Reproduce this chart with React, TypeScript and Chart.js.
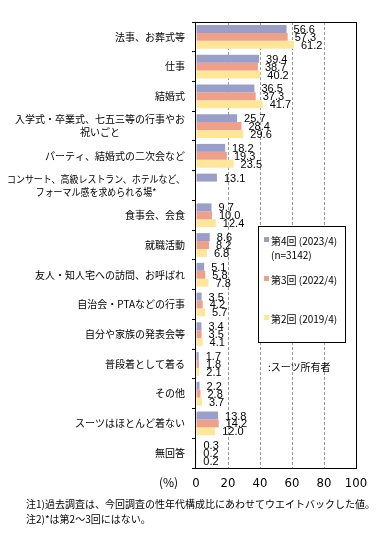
import React, { useEffect, useRef } from "react";
import { Chart, registerables } from "chart.js";

Chart.register(...registerables);

const categories: string[][] = [
  ["法事、お葬式等"],
  ["仕事"],
  ["結婚式"],
  ["入学式・卒業式、七五三等の行事やお", "祝いごと"],
  ["パーティ、結婚式の二次会など"],
  ["コンサート、高級レストラン、ホテルなど、", "フォーマル感を求められる場*"],
  ["食事会、会食"],
  ["就職活動"],
  ["友人・知人宅への訪問、お呼ばれ"],
  ["自治会・PTAなどの行事"],
  ["自分や家族の発表会等"],
  ["普段着として着る"],
  ["その他"],
  ["スーツはほとんど着ない"],
  ["無回答"],
];

const series4: (number | null)[] = [56.6, 39.4, 36.5, 25.7, 18.2, 13.1, 9.7, 8.6, 5.1, 3.5, 3.4, 1.7, 2.2, 13.8, 0.3];
const series3: (number | null)[] = [57.3, 38.7, 37.3, 28.4, 19.3, null, 10.0, 8.2, 5.8, 4.2, 3.5, 1.8, 2.8, 14.2, 0.2];
const series2: (number | null)[] = [61.2, 40.2, 41.7, 29.6, 23.5, null, 12.4, 6.8, 7.8, 5.7, 4.1, 2.1, 3.7, 12.0, 0.2];

const seriesNames = ["第4回 (2023/4)", "第3回 (2022/4)", "第2回 (2019/4)"];
const xTicks = [0, 20, 40, 60, 80, 100];

const COLORS = ["#9A9FC9", "#EFA08B", "#FFE699"];
const JP = '"Noto Sans CJK JP", "Noto Sans", sans-serif';

const labelPlugin = {
  id: "customLabels",
  afterDatasetsDraw(chart: any) {
    const ctx = chart.ctx;
    ctx.save();
    ctx.font = '11px "Liberation Sans", Arial, sans-serif';
    ctx.fillStyle = "#000";
    ctx.textAlign = "left";
    ctx.textBaseline = "middle";
    chart.data.datasets.forEach((ds: any, i: number) => {
      const meta = chart.getDatasetMeta(i);
      meta.data.forEach((el: any, j: number) => {
        const v = ds.data[j];
        if (v === null || v === undefined) return;
        ctx.fillText(Number(v).toFixed(1), el.x + 7, el.y + 1);
      });
    });
    ctx.restore();
  },
  afterDraw(chart: any) {
    const ctx = chart.ctx;
    const { left, right, top, bottom } = chart.chartArea;
    ctx.save();
    ctx.strokeStyle = "#000";
    ctx.lineWidth = 1;
    ctx.strokeRect(Math.round(left) - 0.5, Math.round(top) + 0.5, Math.round(right - left) + 1, Math.round(bottom - top));
    // category labels
    const yScale = chart.scales.y;
    ctx.font = "10px " + JP;
    ctx.fillStyle = "#000";
    ctx.textBaseline = "middle";
    ctx.textAlign = "center";
    const xRight = left - 11;
    const maxAllowed = 178;
    categories.forEach((lines, i) => {
      const yc = yScale.getPixelForValue(i);
      const widths = lines.map((l) => ctx.measureText(l).width);
      const rawMax = Math.max(...widths);
      const scale = rawMax > maxAllowed ? maxAllowed / rawMax : 1;
      const maxW = rawMax * scale;
      const lh = 13;
      const y0 = yc - ((lines.length - 1) * lh) / 2;
      lines.forEach((l, k) => {
        ctx.fillText(l, xRight - maxW / 2, y0 + k * lh, widths[k] * scale);
      });
    });
    ctx.restore();
  },
};

export default function App() {
  const ref = useRef<HTMLCanvasElement | null>(null);
  useEffect(() => {
    if (!ref.current) return;
    const chart = new Chart(ref.current, {
      type: "bar",
      data: {
        labels: categories.map((c) => c.join("")),
        datasets: [series4, series3, series2].map((d, i) => ({
          label: seriesNames[i],
          data: d,
          backgroundColor: COLORS[i],
          borderWidth: 0,
          categoryPercentage: 0.8,
          barPercentage: 1.0,
        })),
      },
      options: {
        indexAxis: "y",
        responsive: false,
        animation: false,
        devicePixelRatio: 1,
        layout: { padding: { top: 22, right: 35, left: 0, bottom: 0 } },
        plugins: { legend: { display: false }, tooltip: { enabled: false } },
        scales: {
          y: {
            type: "category",
            ticks: { display: false },
            grid: {
              offset: true,
              drawOnChartArea: false,
              drawTicks: true,
              tickLength: 4,
              tickColor: "#000",
            },
            border: { display: false },
            afterFit: (s: any) => {
              s.width = 196;
            },
          },
          x: {
            min: 0,
            max: 100,
            afterBuildTicks: (s: any) => {
              s.ticks = xTicks.map((v) => ({ value: v }));
            },
            ticks: {
              color: "#000",
              padding: 8,
              font: { family: '"Liberation Sans Narrow", "DejaVu Sans Condensed", sans-serif', size: 13 },
            },
            grid: {
              drawTicks: false,
              color: (c: any) => (c.tick && (c.tick.value === 0 || c.tick.value === 100) ? "rgba(0,0,0,0)" : "#999"),
            },
            border: { display: false, dash: [3, 2] },
            afterFit: (s: any) => {
              s.height = 72;
            },
          },
        },
      },
      plugins: [labelPlugin],
    } as any);
    return () => chart.destroy();
  }, []);

  const txt = (left: number, cy: number, s: string, size = 10): React.ReactNode => (
    <div
      style={{
        position: "absolute",
        left,
        top: cy - 7,
        height: 14,
        lineHeight: "14px",
        fontSize: size,
        fontFamily: JP,
        whiteSpace: "nowrap",
        color: "#000",
      }}
    >
      {s}
    </div>
  );
  const marker = (left: number, cy: number, color: string) => (
    <div style={{ position: "absolute", left, top: cy - 3, width: 5, height: 5, background: color }} />
  );

  return (
    <div style={{ position: "absolute", left: 0, top: 0, width: 391, height: 540, background: "#fff" }}>
      <canvas ref={ref} width={391} height={540} style={{ position: "absolute", left: 0, top: 0 }} />
      <div
        style={{
          position: "absolute",
          left: 258,
          top: 226,
          width: 88,
          height: 117,
          border: "1px solid #000",
          background: "#fff",
          boxSizing: "border-box",
        }}
      />
      {marker(264, 240, COLORS[0])}
      {txt(271, 241, seriesNames[0])}
      {txt(271, 255, "(n=3142)")}
      {marker(264, 279, COLORS[1])}
      {txt(271, 280, seriesNames[1])}
      {marker(264, 318, COLORS[2])}
      {txt(271, 319, seriesNames[2])}
      {txt(268, 367, ":スーツ所有者")}
      {txt(159, 482, "(%)", 12)}
      {txt(26, 504, "注1)過去調査は、今回調査の性年代構成比にあわせてウエイトバックした値。")}
      {txt(26, 519, "注2)*は第2～3回にはない。")}
    </div>
  );
}
